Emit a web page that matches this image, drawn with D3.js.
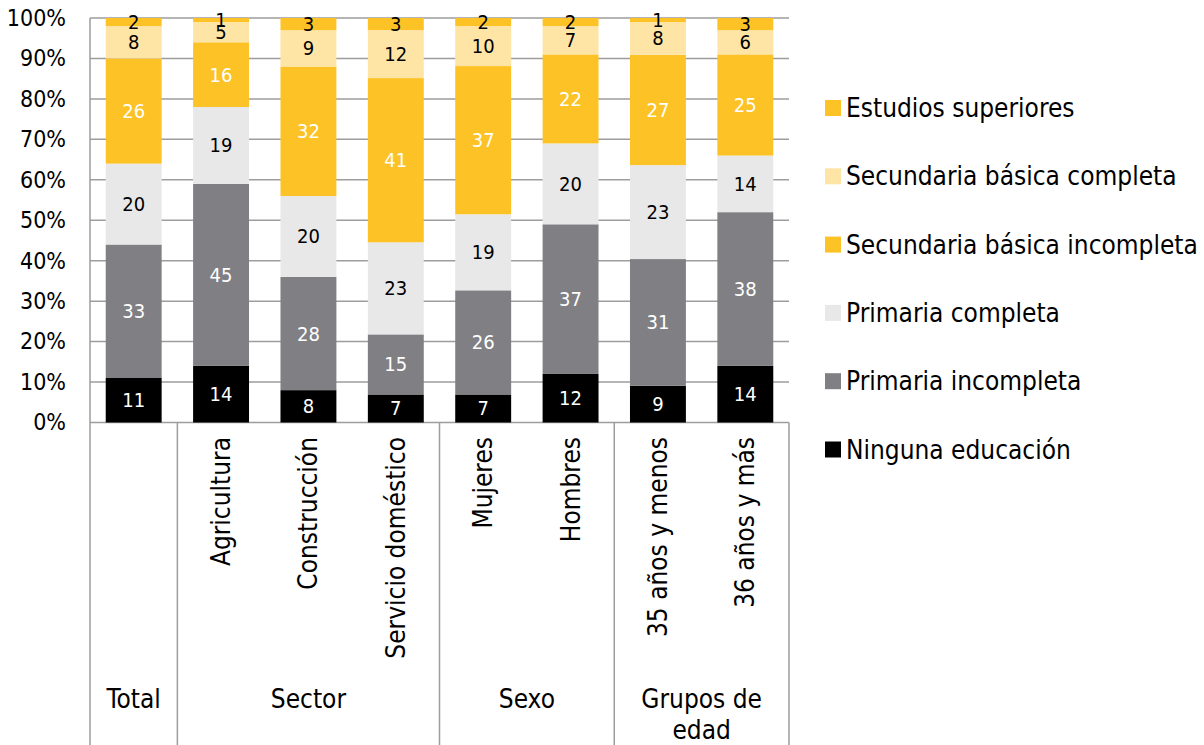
<!DOCTYPE html>
<html><head><meta charset="utf-8">
<script src="https://cdn.jsdelivr.net/npm/d3@7"></script>
<style>body{margin:0;background:#fff}svg{display:block}text{font-family:"DejaVu Sans Condensed","DejaVu Sans",sans-serif}</style>
</head><body><svg id="c" width="1204" height="745"></svg>
<script>
const categories = ["Total","Agricultura","Construcción","Servicio doméstico","Mujeres","Hombres","35 años y menos","36 años y más"];
const groupNames = ["Total","Sector","Sexo","Grupos de edad"];
const groupSizes = [1,3,2,2];
const seriesNames = ["Ninguna educación","Primaria incompleta","Primaria completa","Secundaria básica incompleta","Secundaria básica completa","Estudios superiores"];
const ninguna     = [11,14,8,7,7,12,9,14];
const primInc     = [33,45,28,15,26,37,31,38];
const primComp    = [20,19,20,23,19,20,23,14];
const secInc      = [26,16,32,41,37,22,27,25];
const secComp     = [8,5,9,12,10,7,8,6];
const superiores  = [2,1,3,3,2,2,1,3];
const yTicks = [0,0.1,0.2,0.3,0.4,0.5,0.6,0.7,0.8,0.9,1];

const colors = ["#000000","#808084","#e8e8e8","#fdc226","#fee5a6","#fdc226"];
const labelColors = ["#fff","#fff","#000","#fff","#000","#000"];
const seriesVals = [ninguna,primInc,primComp,secInc,secComp,superiores];

const rows = categories.map((c,i)=>{const r={cat:c}; seriesNames.forEach((s,j)=>r[s]=seriesVals[j][i]); return r;});
const stack = d3.stack().keys(seriesNames).offset(d3.stackOffsetExpand);
const layers = stack(rows);

const svg = d3.select("#c");
const L=90, R=789, T=18, B=422.5, BOT=745;
const BIG = 26;
const x = d3.scaleBand().domain(categories).range([L,R]).paddingInner(0.36).paddingOuter(0.18);
const y = d3.scaleLinear().domain([0,1]).range([B,T]);
const lineCol = "#9d9d9d";

// gridlines
svg.append("g").selectAll("line").data(yTicks).join("line")
  .attr("x1",L).attr("x2",R).attr("y1",d=>y(d)).attr("y2",d=>y(d))
  .attr("stroke",lineCol).attr("stroke-width",1.5);

// y axis labels
const ya = svg.append("g").attr("transform",`translate(${L},0)`)
  .call(d3.axisLeft(y).tickValues(yTicks).tickFormat(d3.format(".0%")).tickSize(0).tickPadding(24));
ya.select(".domain").remove();
ya.selectAll("text").attr("font-size",23).attr("fill","#000").attr("font-family","DejaVu Sans Condensed");

// bars
const lg = svg.append("g").selectAll("g").data(layers).join("g").attr("fill",(d,i)=>colors[i]);
lg.selectAll("rect").data(d=>d).join("rect")
  .attr("x",d=>x(d.data.cat)).attr("width",x.bandwidth())
  .attr("y",d=>y(d[1])).attr("height",d=>y(d[0])-y(d[1]));

// labels
const tl = svg.append("g").selectAll("g").data(layers).join("g").attr("fill",(d,i)=>labelColors[i]);
tl.selectAll("text").data(d=>d.map(v=>({v, key:d.key}))).join("text")
  .attr("x",d=>x(d.v.data.cat)+x.bandwidth()/2)
  .attr("y",d=>(y(d.v[0])+y(d.v[1]))/2)
  .attr("text-anchor","middle").attr("dominant-baseline","central")
  .attr("font-size",20)
  .text(d=>d.v.data[d.key]);

// axes lines
svg.append("line").attr("x1",L).attr("x2",L).attr("y1",T).attr("y2",BOT).attr("stroke",lineCol).attr("stroke-width",1.5);

// category labels (rotated)
svg.append("g").selectAll("text").data(categories.slice(1)).join("text")
  .attr("transform",d=>`translate(${x(d)+x.bandwidth()/2+9},437) rotate(-90)`)
  .attr("text-anchor","end").attr("font-size",BIG).attr("fill","#000").text(d=>d);

// groups
let idx=0;
const gap = x.step() - x.bandwidth();
groupNames.forEach((g,gi)=>{
  const first = categories[idx], last = categories[idx+groupSizes[gi]-1];
  const x0 = gi===0 ? L : x(first)-gap/2;
  const x1 = gi===groupNames.length-1 ? R : x(last)+x.bandwidth()+gap/2;
  svg.append("line").attr("x1",x1).attr("x2",x1).attr("y1",B).attr("y2",BOT).attr("stroke",lineCol).attr("stroke-width",1.5);
  const words = g.split(" ");
  const lines = groupSizes[gi]===2 && words.length>2 ? [words.slice(0,2).join(" "), words.slice(2).join(" ")] : [g];
  lines.forEach((ln,li)=>{
    svg.append("text").attr("x",(x0+x1)/2).attr("y",708+li*31).attr("text-anchor","middle")
      .attr("font-size",BIG).attr("fill","#000").text(ln);
  });
  idx += groupSizes[gi];
});

// legend
const legItems = seriesNames.map((s,i)=>({s,c:colors[i]})).reverse();
const lgd = svg.append("g").selectAll("g").data(legItems).join("g")
  .attr("transform",(d,i)=>`translate(825,${108+i*68.3})`);
lgd.append("rect").attr("x",0).attr("y",-8).attr("width",16).attr("height",16).attr("fill",d=>d.c);
lgd.append("text").attr("x",21).attr("y",0).attr("dominant-baseline","central").attr("font-size",BIG).attr("fill","#000").text(d=>d.s);
</script></body></html>
